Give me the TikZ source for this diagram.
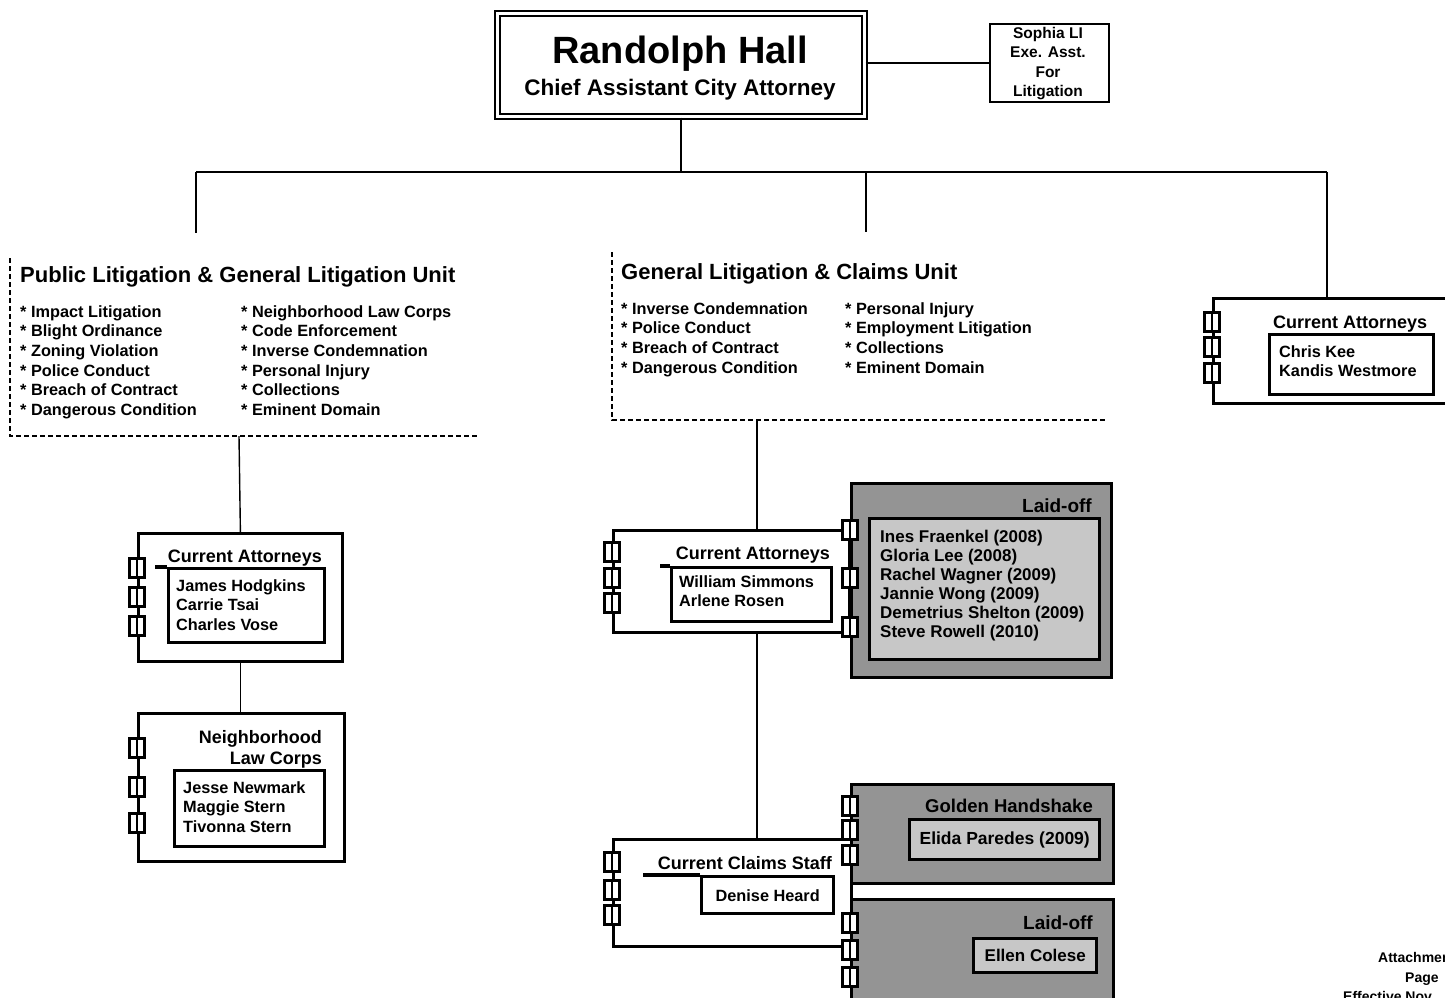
\documentclass[tikz,border=0pt]{standalone}
\usepackage{fontspec}
\setmainfont{Liberation Sans}
\begin{document}
\begin{tikzpicture}[x=1pt,y=-1pt,
 bx/.style={draw, line width=2.8pt, anchor=north west, inner sep=0, fill=white},
 ib/.style={draw, line width=3.4pt, anchor=north west, inner sep=0},
 ring/.style={draw, fill=white, line width=2.4pt, minimum width=15pt, minimum height=19pt, inner sep=0,
   path picture={\draw[line width=2.4pt] (path picture bounding box.north) -- (path picture bounding box.south);}},
 conn/.style={line width=1.4pt},
 dsh/.style={line width=1.3pt, dash pattern=on 5pt off 3pt},
 tl/.style={inner sep=0, font=\bfseries\fontsize{18}{21}\selectfont},
 lst/.style={inner sep=0, anchor=north west, align=left, font=\bfseries\fontsize{16.3}{19.7}\selectfont},
 gbox/.style={draw, line width=3.2pt, fill=black!42, anchor=north west, inner sep=0},
 ginner/.style={draw, line width=3.4pt, fill=black!22, anchor=north west, inner sep=0},
 gtxt/.style={inner sep=0, font=\bfseries\fontsize{17}{19}\selectfont},
]
\useasboundingbox (0,0) rectangle (1445,997);
\clip (0,0) rectangle (1445,997);

% ---------- top ----------
\node[draw, line width=2pt, double=white, double distance=2.6pt, anchor=north west, inner sep=0,
      minimum width=367pt, minimum height=103pt] (hall) at (496.5,12.5) {};
\node[inner sep=0, anchor=base, font=\bfseries\fontsize{38}{40}\selectfont] (hallname) at (680,63) {Randolph Hall};
\node[inner sep=0, anchor=base, font=\bfseries\fontsize{22.5}{25}\selectfont] (halltitle) at (680,95) {Chief Assistant City Attorney};

\node[bx, line width=2pt, minimum width=119pt, minimum height=78pt] (sophia) at (989,23) {};
\node[inner sep=0, align=center, anchor=north, font=\bfseries\fontsize{15.5}{19.5}\selectfont] (sophiatxt) at (1048,27)
  {Sophia LI\\Exe. Asst.\\For\\Litigation};
\draw[conn] (hall.east |- sophia.west) -- (sophia.west);

\coordinate (bus) at (681,172);
\coordinate (busL) at (196,172);
\coordinate (busR) at (1327,172);
\coordinate (legL) at (196,233);
\coordinate (legC) at (866,232);
\draw[conn] (hall.south -| bus) -- (bus);
\draw[conn] (busL) -- (busR);
\draw[conn] (busL) -- (legL);
\draw[conn] (busL -| legC) -- (legC);

% ---------- left unit ----------
\draw[dsh] (10,258) -- (10,436) -- (478,436);
\coordinate (pu) at (239,436);
\node[inner sep=0, anchor=base west, font=\bfseries\fontsize{22}{24}\selectfont] (putitle) at (20,282)
  {Public Litigation \& General Litigation Unit};
\node[lst] (pul1) at (20,305) {* Impact Litigation\\* Blight Ordinance\\* Zoning Violation\\* Police Conduct\\* Breach of Contract\\* Dangerous Condition};
\node[lst] (pul2) at (241,305) {* Neighborhood Law Corps\\* Code Enforcement\\* Inverse Condemnation\\* Personal Injury\\* Collections\\* Eminent Domain};

\node[bx, minimum width=204pt, minimum height=128pt] (lca) at (137,532) {};
\node[ib, minimum width=156pt, minimum height=74pt] (lcai) at (167,567) {};
\draw[line width=3.4pt] (155,567) -- (lcai.north west);
\node[tl, anchor=base east] (lcat) at (322,562) {Current Attorneys};
\node[lst] (lcan) at (176,579) {James Hodgkins\\Carrie Tsai\\Charles Vose};
\foreach \y [count=\i] in {568,597,626} \node[ring] (lr\i) at (137,\y) {};
\draw[conn] (pu) -- (lca.north);

\node[bx, minimum width=206pt, minimum height=148pt] (nlc) at (137,712) {};
\node[ib, minimum width=150pt, minimum height=76pt] (nlci) at (173,769) {};
\node[tl, anchor=north east, align=right] (nlct) at (322,730) {Neighborhood\\Law Corps};
\node[lst] (nlcn) at (183,781) {Jesse Newmark\\Maggie Stern\\Tivonna Stern};
\foreach \y [count=\i] in {748,787,823} \node[ring] (nr\i) at (137,\y) {};
\draw[conn] (lca.south) -- (lca.south |- nlc.north);

% ---------- center unit ----------
\draw[dsh] (612,252) -- (612,420) -- (1106,420);
\coordinate (gu) at (757,420);
\node[inner sep=0, anchor=base west, font=\bfseries\fontsize{22}{24}\selectfont] (gutitle) at (621,279)
  {General Litigation \& Claims Unit};
\node[lst] (gul1) at (621,302) {* Inverse Condemnation\\* Police Conduct\\* Breach of Contract\\* Dangerous Condition};
\node[lst] (gul2) at (845,302) {* Personal Injury\\* Employment Litigation\\* Collections\\* Eminent Domain};

\node[bx, minimum width=238pt, minimum height=107pt] (ccs) at (612,838) {};

% laid-off 1
\node[gbox, minimum width=260pt, minimum height=194pt] (lo1) at (850,482) {};
\node[ginner, minimum width=230pt, minimum height=141pt] (lo1i) at (868,517) {};
\node[gtxt, anchor=base east, font=\bfseries\fontsize{19}{21}\selectfont] (lo1t) at (1092,512) {Laid-off};
\node[gtxt, anchor=north west, align=left] (lo1n) at (880,530)
  {Ines Fraenkel (2008)\\Gloria Lee (2008)\\Rachel Wagner (2009)\\Jannie Wong (2009)\\Demetrius Shelton (2009)\\Steve Rowell (2010)};

\node[bx, minimum width=236pt, minimum height=102pt] (cca) at (612,529) {};
\node[ib, minimum width=160pt, minimum height=54pt] (ccai) at (670,566) {};
\draw[line width=3.4pt] (660,566) -- (ccai.north west);
\node[tl, anchor=base east] (ccat) at (830,559.5) {Current Attorneys};
\node[lst] (ccan) at (679,575) {William Simmons\\Arlene Rosen};
\foreach \y [count=\i] in {552,578,603} \node[ring] (cr\i) at (612,\y) {};
\foreach \y [count=\i] in {530,578,627} \node[ring] (lor\i) at (850,\y) {};
\draw[conn] (gu) -- (gu |- cca.north);
\draw[conn] (gu |- cca.south) -- (gu |- ccs.north);

% golden handshake
\node[gbox, minimum width=262pt, minimum height=99pt] (gh) at (850,783) {};
\node[ginner, minimum width=190pt, minimum height=40pt] (ghi) at (908,818) {};
\node[gtxt, anchor=base east, font=\bfseries\fontsize{18.5}{21}\selectfont] (ght) at (1093,812.5) {Golden Handshake};
\node[gtxt, font=\bfseries\fontsize{17.5}{19}\selectfont] (ghn) at (ghi.center) {Elida Paredes (2009)};
\foreach \y [count=\i] in {806,830,855} \node[ring] (ghr\i) at (850,\y) {};

% laid-off 2
\node[gbox, minimum width=262pt, minimum height=110pt] (lo2) at (850,898) {};
\node[ginner, minimum width=123pt, minimum height=34pt] (lo2i) at (972,937) {};
\node[gtxt, anchor=base east, font=\bfseries\fontsize{19}{21}\selectfont] (lo2t) at (1093,929.5) {Laid-off};
\node[gtxt] (lo2n) at (lo2i.center) {Ellen Colese};
\foreach \y [count=\i] in {923,950,977} \node[ring] (lo2r\i) at (850,\y) {};

% claims staff content
\node[ib, minimum width=132pt, minimum height=37pt] (ccsi) at (700,875) {};
\draw[line width=3.4pt] (643,875) -- (ccsi.north west);
\node[tl, anchor=base east] (ccst) at (832,869.5) {Current Claims Staff};
\node[inner sep=0, font=\bfseries\fontsize{16.3}{19}\selectfont] (ccsn) at (ccsi.center) {Denise Heard};
\foreach \y [count=\i] in {862,890,915} \node[ring] (csr\i) at (612,\y) {};

% ---------- right ----------
\node[bx, minimum width=250pt, minimum height=105pt] (rca) at (1212,297) {};
\node[ib, minimum width=164pt, minimum height=60pt] (rcai) at (1268,333) {};
\node[tl, anchor=base west] (rcat) at (1273,328.5) {Current Attorneys};
\node[lst] (rcan) at (1279,345) {Chris Kee\\Kandis Westmore};
\foreach \y [count=\i] in {322,347,373} \node[ring] (rr\i) at (1212,\y) {};
\draw[conn] (busR) -- (busR |- rca.north);

% ---------- footer (cut at the page edge, as in the reference) ----------
\node[inner sep=0, anchor=base west, font=\bfseries\fontsize{14}{16}\selectfont] (att1) at (1378,962) {Attachment};
\node[inner sep=0, anchor=base west, font=\bfseries\fontsize{14}{16}\selectfont] (att2) at (1405,982) {Page};
\node[inner sep=0, anchor=base west, font=\bfseries\fontsize{14}{16}\selectfont] (att3) at (1343,1001) {Effective Nov};
\end{tikzpicture}
\end{document}
